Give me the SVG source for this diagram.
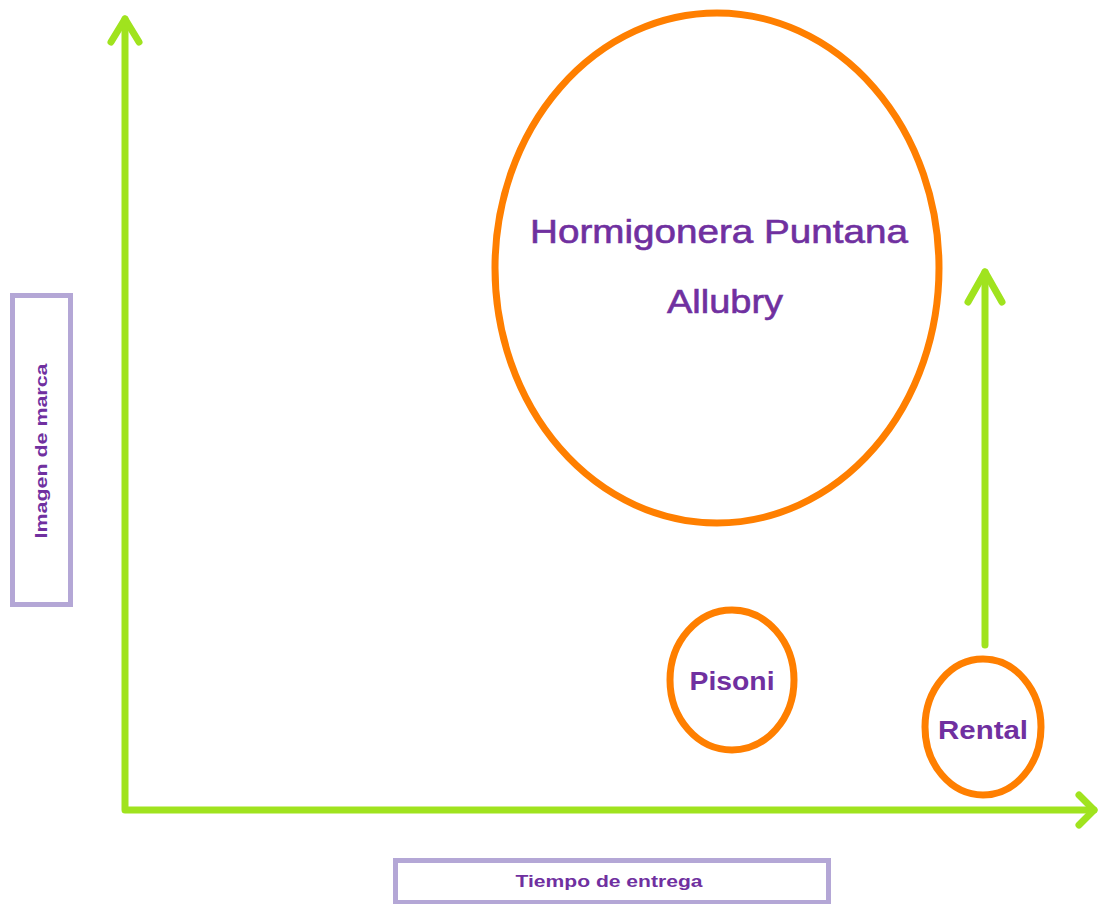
<svg xmlns="http://www.w3.org/2000/svg" width="1100" height="904" viewBox="0 0 1100 904">
<style>
.ax{stroke:#a0e31e;stroke-width:7;fill:none;stroke-linecap:round;stroke-linejoin:round}
.ell{stroke:#ff7f00;stroke-width:7;fill:none}
.box{stroke:#b4a7d6;stroke-width:5;fill:#fff}
.t{font-family:"Liberation Sans",Arial,sans-serif;fill:#7030a0;text-anchor:middle}
.b{font-weight:bold}
</style>
<rect width="1100" height="904" fill="#fff"/>
<g id="connectors">
<path class="ax" d="M125,19 V810 H1094"/>
<path class="ax" d="M111,42 L125,19 L139,42"/>
<path class="ax" d="M1079,795 L1094,810 L1079,825"/>
<path class="ax" d="M985,645 V272"/>
<path class="ax" d="M968,302 L985,272 L1002,302"/>
</g>
<g id="y-label">
<rect class="box" x="12.5" y="295.5" width="58" height="309"/>
<text class="t b" transform="translate(47,451) rotate(-90)" font-size="17" textLength="175" lengthAdjust="spacingAndGlyphs">Imagen de marca</text>
</g>
<g id="x-label">
<rect class="box" x="395.5" y="860.5" width="433" height="42"/>
<text class="t b" x="609" y="887" font-size="17" textLength="187" lengthAdjust="spacingAndGlyphs">Tiempo de entrega</text>
</g>
<g id="big">
<ellipse class="ell" cx="717" cy="268" rx="222" ry="255"/>
<text class="t" x="719" y="243" font-size="33" textLength="378" lengthAdjust="spacingAndGlyphs" stroke="#7030a0" stroke-width="0.6">Hormigonera Puntana</text>
<text class="t" x="725" y="313" font-size="33" textLength="116" lengthAdjust="spacingAndGlyphs" stroke="#7030a0" stroke-width="0.6">Allubry</text>
</g>
<g id="pisoni">
<ellipse class="ell" cx="732" cy="680" rx="62" ry="70"/>
<text class="t b" x="732" y="690" font-size="25" textLength="85" lengthAdjust="spacingAndGlyphs">Pisoni</text>
</g>
<g id="rental">
<ellipse class="ell" cx="983" cy="727" rx="58" ry="68"/>
<text class="t b" x="983" y="739" font-size="25" textLength="90" lengthAdjust="spacingAndGlyphs">Rental</text>
</g>
</svg>
